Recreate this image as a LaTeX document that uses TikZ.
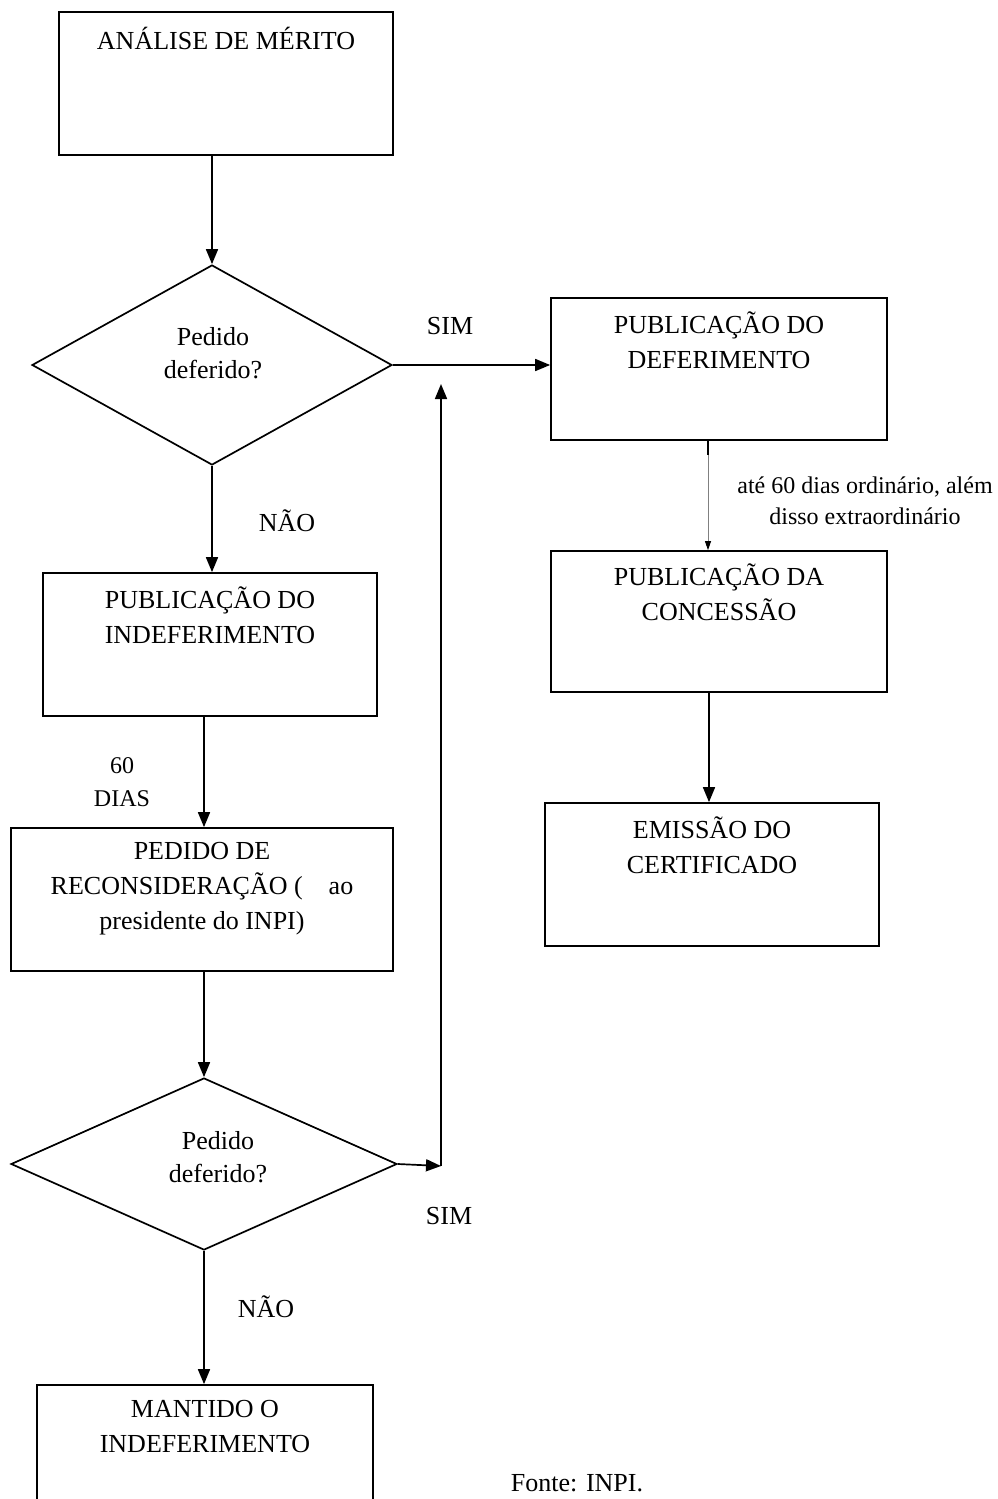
\documentclass[tikz,border=0pt]{standalone}
\usepackage{fontspec}
\setmainfont{Liberation Serif}
\usetikzlibrary{arrows.meta,shapes.geometric}
\begin{document}
\begin{tikzpicture}[x=1pt,y=-1pt,
  box/.style={draw,line width=1.7pt,rectangle,inner sep=0pt},
  dia/.style={draw,line width=1.7pt,diamond,inner sep=0pt,aspect=1.8},
  big/.style={font=\fontsize{26}{35}\selectfont,align=center,inner sep=0pt,anchor=north},
  small/.style={font=\fontsize{24}{33}\selectfont,align=center,inner sep=0pt},
  arr/.style={line width=1.7pt,-{Triangle[length=15pt,width=12pt]}},
  thinarr/.style={line width=0.8pt,draw=gray,-{Triangle[length=9pt,width=6pt,color=black]}}]
\useasboundingbox (0,0) rectangle (997,1499);
% boxes
\node[box,minimum width=334,minimum height=143] (analise) at (226,83.5) {};
\node[box,minimum width=336,minimum height=142] (defer) at (719,369) {};
\node[box,minimum width=336,minimum height=141] (conc) at (719,621.5) {};
\node[box,minimum width=334,minimum height=143] (emis) at (712,874.5) {};
\node[box,minimum width=334,minimum height=143] (indef) at (210,644.5) {};
\node[box,minimum width=382,minimum height=143] (recon) at (202,899.5) {};
\node[box,minimum width=336,minimum height=160] (mant) at (205,1465) {};
% diamonds
\node[dia,minimum width=360,minimum height=200] (d1) at (212,365) {};
\node[dia,minimum width=386,minimum height=172] (d2) at (204,1164) {};
% texts
\node[big] (t1) at (226,27) {ANÁLISE DE MÉRITO};
\node[big] (t2) at (719,312) {PUBLICAÇÃO DO\\DEFERIMENTO};
\node[big] (t3) at (719,564) {PUBLICAÇÃO DA\\CONCESSÃO};
\node[big] (t4) at (712,817) {EMISSÃO DO\\CERTIFICADO};
\node[big] (t5) at (210,587) {PUBLICAÇÃO DO\\INDEFERIMENTO};
\node[big] (t6) at (202,842) {PEDIDO DE\\RECONSIDERAÇÃO (\quad ao\\presidente do INPI)};
\node[big] (t7) at (205,1400) {MANTIDO O\\INDEFERIMENTO};
\node[big,font=\fontsize{26}{33}\selectfont] (q1) at (213,327) {Pedido\\deferido?};
\node[big,font=\fontsize{26}{33}\selectfont] (q2) at (218,1131) {Pedido\\deferido?};
\node[big,anchor=center] (sim1) at (450,326) {SIM};
\node[big,anchor=center] (nao1) at (287,521) {NÃO};
\node[big,anchor=center] (sim2) at (449,1216) {SIM};
\node[big,anchor=center] (nao2) at (266,1307) {NÃO};
\node[small] (l60) at (122,782) {60\\DIAS};
\node[small,font=\fontsize{24}{31}\selectfont] (lord) at (865,501) {até 60 dias ordinário, além\\disso extraordinário};
\node[small,font=\fontsize{26}{30}\selectfont] (fonte) at (577,1483) {Fonte: INPI.};
% helper coordinates
\coordinate (x204) at (204,0);
\coordinate (x708) at (708,0);
\coordinate (x709) at (709,0);
\coordinate (j) at (441,1166);
\coordinate (jtop) at (441,384);
% connectors
\draw[arr] (analise.south -| d1.north) -- (d1.north);
\draw[arr] (d1.east) -- (defer.west |- d1.east);
\draw[arr] (d1.south) -- (indef.north -| d1.south);
\draw[thinarr] (defer.south -| x708) -- (conc.north -| x708);
\draw[line width=1.7pt] (defer.south -| x708) -- ++(0,14);
\draw[arr] (conc.south -| x709) -- (emis.north -| x709);
\draw[arr] (indef.south -| x204) -- (recon.north -| x204);
\draw[arr] (recon.south -| x204) -- (d2.north);
\draw[arr] (d2.east) -- (j);
\draw[arr] (j) -- (jtop);
\draw[arr] (d2.south) -- (mant.north -| d2.south);
\end{tikzpicture}
\end{document}
